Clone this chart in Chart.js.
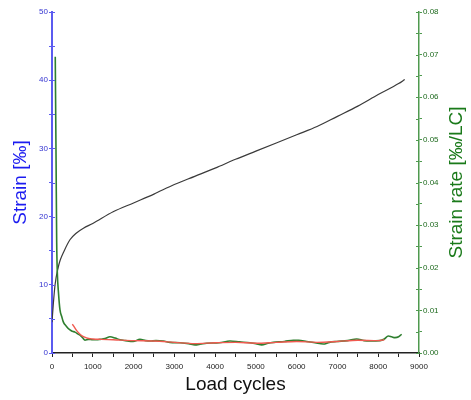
<!DOCTYPE html>
<html>
<head>
<meta charset="utf-8">
<script src="https://cdn.jsdelivr.net/npm/chart.js@4.4.1/dist/chart.umd.min.js"></script>
<style>
  body { margin: 0; background: #fff; }
  #wrap { width: 471px; height: 400px; }
</style>
</head>
<body>
<div id="wrap"><canvas id="strainChart"></canvas></div>
<script>
// strain curve (left axis, ‰)
const strainCycles = [0, 30, 75, 150, 200, 300, 440, 600, 770, 1000, 1500, 2000, 2500, 3000, 3500, 4000, 4500, 5000, 5500, 6000, 6500, 7000, 7500, 8000, 8500, 8650];
const strainValues = [4.5, 7, 10, 12.5, 13.6, 15, 16.6, 17.6, 18.3, 19.0, 20.7, 22.0, 23.3, 24.7, 25.9, 27.1, 28.4, 29.6, 30.8, 32.0, 33.2, 34.7, 36.2, 37.9, 39.5, 40.1];

// measured strain rate (right axis, ‰/LC)
const rateCycles = [80, 100, 115, 130, 160, 196, 240, 277, 350, 441, 500, 564, 630, 687, 750, 809, 891, 1000, 1100, 1177, 1300, 1422, 1550, 1667, 1800, 1990, 2158, 2300, 2403, 2550, 2730, 2894, 3139, 3350, 3507, 3650, 3793, 4100, 4365, 4600, 4855, 5000, 5142, 5300, 5427, 5700, 5918, 6050, 6246, 6450, 6653, 6800, 6981, 7250, 7472, 7650, 7798, 8043, 8150, 8247, 8330, 8411, 8500, 8575];
const rateValues = [0.0695, 0.045, 0.026, 0.019, 0.014, 0.0101, 0.0085, 0.0073, 0.0063, 0.0054, 0.0051, 0.0049, 0.0045, 0.0042, 0.0036, 0.0030, 0.0032, 0.0031, 0.0031, 0.0032, 0.0034, 0.0038, 0.0035, 0.0031, 0.0029, 0.0027, 0.0032, 0.0029, 0.0028, 0.0029, 0.0028, 0.0025, 0.0024, 0.0022, 0.0019, 0.0021, 0.0023, 0.0024, 0.0028, 0.0026, 0.0024, 0.0022, 0.0019, 0.0023, 0.0025, 0.0027, 0.0030, 0.0030, 0.0027, 0.0024, 0.0021, 0.0025, 0.0027, 0.0029, 0.0033, 0.0029, 0.0028, 0.0029, 0.0033, 0.0040, 0.0038, 0.0036, 0.0038, 0.0044];

// smoothed strain rate (red)
const fitCycles = [500, 600, 700, 800, 900, 1000, 1200, 1500, 2000, 2500, 3000, 3500, 4000, 4500, 5000, 5500, 6000, 6500, 7000, 7500, 8000, 8150];
const fitValues = [0.0068, 0.0053, 0.0043, 0.0037, 0.0034, 0.0033, 0.0032, 0.0031, 0.0029, 0.0028, 0.0025, 0.0022, 0.0024, 0.0025, 0.0023, 0.0025, 0.0027, 0.0025, 0.0027, 0.0030, 0.0029, 0.0031];

const xTicks = [0, 1000, 2000, 3000, 4000, 5000, 6000, 7000, 8000, 9000];
const rateTitle = 'Strain rate [‰/LC]';

function toPoints(xs, ys) {
    return xs.map((x, i) => ({ x: x, y: ys[i] }));
}

// tick marks that also poke into the plot on the y axes
const innerTicks = {
    id: 'innerTicks',
    afterDraw(chart) {
        const ctx = chart.ctx;
        [['y', 1, '#5b5bf0'], ['y2', -1, '#4f9a4f']].forEach(([id, dir, col]) => {
            const sc = chart.scales[id];
            const x0 = dir > 0 ? sc.right : sc.left;
            ctx.save();
            ctx.strokeStyle = col;
            ctx.lineWidth = 1;
            sc.ticks.forEach(t => {
                const py = Math.round(sc.getPixelForValue(t.value)) + 0.5;
                ctx.beginPath();
                ctx.moveTo(x0, py);
                ctx.lineTo(x0 + dir * 3, py);
                ctx.stroke();
            });
            ctx.restore();
        });
    }
};

// right title reads bottom-to-top like the left one
const rightTitle = {
    id: 'rightTitle',
    afterDraw(chart) {
        const ctx = chart.ctx;
        const area = chart.chartArea;
        ctx.save();
        ctx.translate(457, (area.top + area.bottom) / 2);
        ctx.rotate(-Math.PI / 2);
        ctx.font = '19px "Liberation Sans", Arial';
        ctx.fillStyle = '#1a7a1a';
        ctx.textAlign = 'center';
        ctx.textBaseline = 'middle';
        ctx.fillText(rateTitle, 0, 0);
        ctx.restore();
    }
};

const ctx = document.getElementById('strainChart').getContext('2d');
new Chart(ctx, {
    type: 'line',
    data: {
        datasets: [{
            label: 'Strain',
            data: toPoints(strainCycles, strainValues),
            yAxisID: 'y',
            borderColor: '#3a3a3a',
            borderWidth: 1.2,
            pointRadius: 0,
            cubicInterpolationMode: 'monotone',
            order: 3
        }, {
            label: 'Strain rate',
            data: toPoints(rateCycles, rateValues),
            yAxisID: 'y2',
            borderColor: '#2f7f2f',
            borderWidth: 1.6,
            pointRadius: 0,
            cubicInterpolationMode: 'monotone',
            order: 2
        }, {
            label: 'Fit',
            data: toPoints(fitCycles, fitValues),
            yAxisID: 'y2',
            borderColor: '#f05a50',
            borderWidth: 1.4,
            pointRadius: 0,
            cubicInterpolationMode: 'monotone',
            order: 1
        }]
    },
    options: {
        responsive: true,
        maintainAspectRatio: false,
        animation: false,
        layout: { padding: { top: 12, left: 0, right: 0, bottom: 0 } },
        plugins: { legend: { display: false }, tooltip: { enabled: false } },
        scales: {
            x: {
                type: 'linear',
                min: 0,
                max: 9000,
                afterFit: s => { s.height = 47; },
                afterBuildTicks: s => {
                    const t = [];
                    for (let v = 0; v <= 9000; v += 500) t.push({ value: v });
                    s.ticks = t;
                },
                ticks: {
                    autoSkip: false,
                    maxRotation: 0,
                    padding: 5,
                    color: '#222',
                    font: { family: 'Liberation Sans, Arial', size: 8 },
                    callback: v => (xTicks.includes(v) ? String(v) : '')
                },
                grid: { drawOnChartArea: false, tickLength: 4, color: '#222' },
                border: { color: '#222', width: 1.5 },
                title: {
                    display: true,
                    text: 'Load cycles',
                    color: '#111',
                    font: { family: 'Liberation Sans, Arial', size: 19 },
                    padding: { top: 4, bottom: 4 }
                }
            },
            y: {
                position: 'left',
                min: 0,
                max: 50,
                afterFit: s => { s.width = 52; },
                ticks: {
                    stepSize: 5,
                    padding: 1,
                    color: '#3434d0',
                    font: { family: 'Liberation Sans, Arial', size: 8 },
                    callback: v => (v % 10 === 0 ? String(v) : '')
                },
                grid: { drawOnChartArea: false, tickLength: 3, color: '#5b5bf0' },
                border: { color: '#5b5bf0', width: 2 },
                title: {
                    display: true,
                    text: 'Strain [‰]',
                    color: '#1c1cf0',
                    font: { family: 'Liberation Sans, Arial', size: 19 },
                    padding: { top: 9, bottom: 4 }
                }
            },
            y2: {
                position: 'right',
                min: 0,
                max: 0.08,
                afterFit: s => { s.width = 52; },
                ticks: {
                    stepSize: 0.005,
                    padding: 1,
                    color: '#1e6a1e',
                    font: { family: 'Liberation Sans, Arial', size: 8 },
                    callback: v => (Math.round(v * 1000) % 10 === 0 ? v.toFixed(2) : '')
                },
                grid: { drawOnChartArea: false, tickLength: 3, color: '#4f9a4f' },
                border: { color: '#4f9a4f', width: 1.5 },
                title: { display: false }
            }
        }
    },
    plugins: [innerTicks, rightTitle]
});
</script>
</body>
</html>
